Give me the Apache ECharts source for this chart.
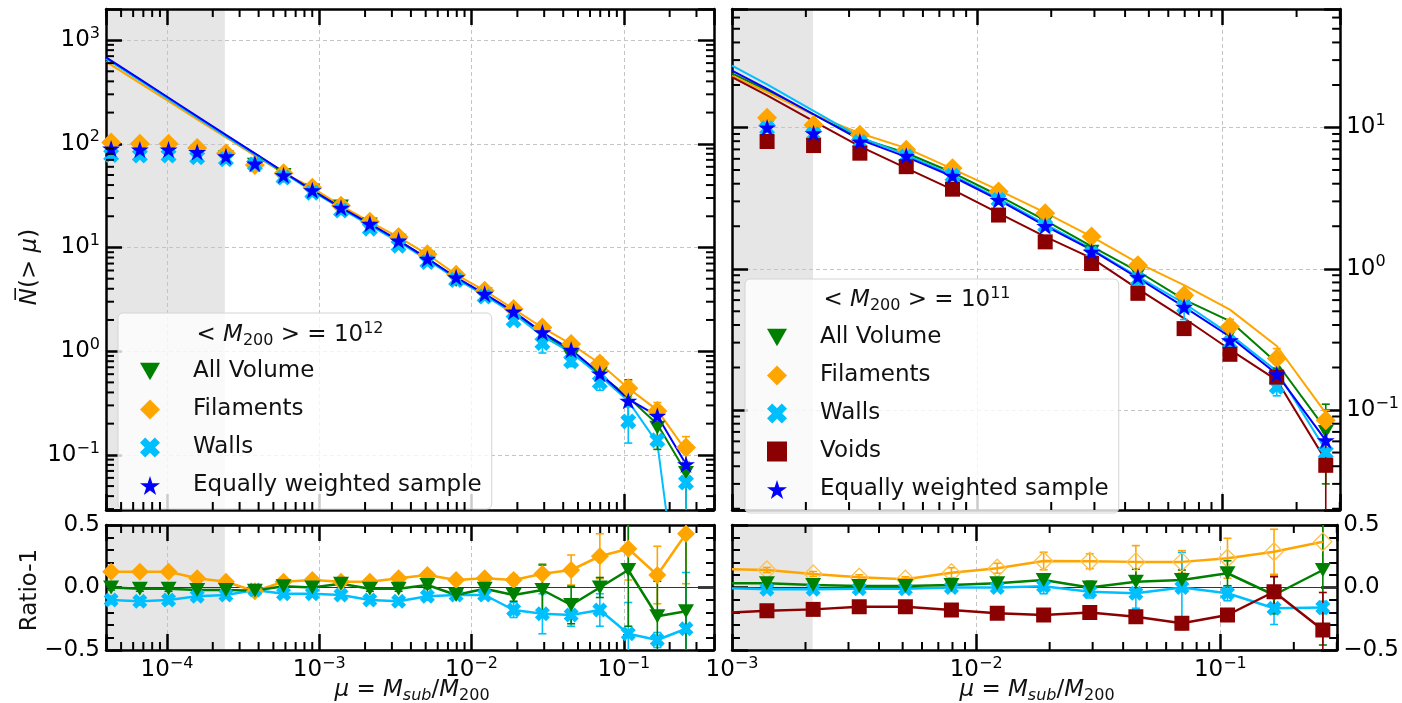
<!DOCTYPE html>
<html><head><meta charset="utf-8">
<script src="https://cdn.jsdelivr.net/npm/echarts@6/dist/echarts.min.js"></script>
<style>html,body{margin:0;padding:0;background:#fff}#c{width:1402px;height:703px}</style>
</head><body><div id="c"></div>
<script>
// ---------------- DATA ----------------
// mu bins (left panel, <M200>=1e12)
const xL = [4.30e-5, 6.64e-5, 1.025e-4, 1.58e-4, 2.44e-4, 3.78e-4, 5.83e-4, 9.01e-4, 1.39e-3, 2.15e-3, 3.32e-3, 5.13e-3, 7.92e-3, 1.22e-2, 1.89e-2, 2.92e-2, 4.51e-2, 6.96e-2, 0.107, 0.166, 0.256];
const xLineL = [3.98e-5, 4.30e-5, 6.64e-5, 1.025e-4, 1.58e-4, 2.44e-4, 3.78e-4, 5.83e-4, 9.01e-4, 1.39e-3, 2.15e-3, 3.32e-3, 5.13e-3, 7.92e-3, 1.22e-2, 1.89e-2, 2.92e-2, 4.51e-2, 6.96e-2, 0.107, 0.166, 0.256];
// mu bins (right panel, <M200>=1e11)
const xR = [1.39e-3, 2.15e-3, 3.32e-3, 5.13e-3, 7.92e-3, 1.22e-2, 1.89e-2, 2.92e-2, 4.51e-2, 6.96e-2, 0.107, 0.166, 0.263];
const xLineR = [1e-3, 1.39e-3, 2.15e-3, 3.32e-3, 5.13e-3, 7.92e-3, 1.22e-2, 1.89e-2, 2.92e-2, 4.51e-2, 6.96e-2, 0.107, 0.166, 0.263];

// Top-left markers N(>mu)
const allVolL = [89.8, 87, 87, 81.7, 74.2, 62.8, 50.2, 35.6, 24.9, 16.7, 11.6, 7.96, 4.85, 3.53, 2.27, 1.49, 0.89, 0.61, 0.38, 0.183, 0.067];
const filL    = [103, 100, 100, 91, 81, 62.5, 52, 37.7, 25.3, 17.7, 12.6, 8.6, 5.47, 3.83, 2.55, 1.69, 1.17, 0.76, 0.44, 0.265, 0.118];
const wallL   = [78, 77, 77, 74, 71, 63.1, 47.2, 33.8, 22.7, 15.2, 10.4, 7.25, 4.85, 3.36, 1.98, 1.2, 0.80, 0.50, 0.21, 0.138, 0.054];
const eqL     = [89.8, 88, 88, 83.4, 75.7, 64.4, 49.7, 35.6, 24.2, 16.9, 11.7, 7.8, 5.16, 3.57, 2.41, 1.52, 1.03, 0.61, 0.333, 0.238, 0.081];
// Top-left errors
const allVolErrL = [0,0,0,0,0,0,0,0,0,0,0,0,0,0,0.12,0.3,0.15,0.05,0.15,0.07,0.05];
const filErrL    = [0,0,0,0,0,0,0,0,0,0,0,0,0,0,0.1,0.12,0.12,0.11,0.08,0.055,0.032];
const wallErrL   = [0,0,0,0,0,0,0,0,0,0,0,0,0,0,0.14,0.24,0.09,0.08,0.08,0.014,0.06];
// Top-left lines
const allVolLineL = [670, 625, 414, 274, 181, 120, 80, 53, 35.6, 24.9, 16.7, 11.6, 7.9, 5.0, 3.5, 2.35, 1.49, 0.97, 0.6, 0.36, 0.197, 0.068];
const filLineL    = [617, 576, 385, 258, 172, 115, 77, 52, 37.7, 25.3, 17.7, 12.6, 8.6, 5.47, 3.83, 2.55, 1.69, 1.17, 0.76, 0.44, 0.27, 0.11];
const wallLineL   = [660, 615, 408, 270, 179, 118, 79, 52.5, 35, 23.7, 16.3, 11.3, 7.6, 5.0, 3.45, 2.3, 1.4, 0.97, 0.58, 0.33, 0.13, 0.001];
const eqLineL     = [681, 634, 420, 278, 184, 122, 81, 53.5, 35.6, 24.2, 16.9, 11.7, 7.8, 5.16, 3.57, 2.41, 1.52, 1.03, 0.61, 0.345, 0.238, 0.081];

// Top-right markers
const allVolR = [10.3, 9.3, 8.06, 6.38, 4.64, 3.17, 2.13, 1.32, 0.917, 0.569, 0.348, 0.168, 0.070];
const filR    = [11.7, 10.4, 8.9, 6.95, 5.15, 3.52, 2.47, 1.69, 1.06, 0.65, 0.388, 0.232, 0.0845];
const wallR   = [9.86, 8.97, 7.88, 6.24, 4.55, 3.07, 2.01, 1.28, 0.837, 0.537, 0.298, 0.146, 0.050];
const voidR   = [7.96, 7.45, 6.58, 5.28, 3.66, 2.40, 1.55, 1.09, 0.67, 0.377, 0.248, 0.171, 0.0406];
const eqR     = [10.0, 9.1, 7.96, 6.3, 4.55, 3.07, 2.01, 1.32, 0.877, 0.537, 0.312, 0.179, 0.061];
const allVolErrR = [0,0,0,0,0,0,0,0,0.05,0.03,0.03,0.03,0.04];
const filErrR    = [0,0,0,0,0,0,0,0,0.1,0.05,0.05,0.04,0.015];
const wallErrR   = [0,0,0,0,0,0,0,0,0.08,0.1,0.02,0.02,0.004];
const voidErrR   = [0,0,0,0,0,0,0,0,0.03,0.02,0.02,0.02,0.045];
// Top-right lines
const allVolLineR = [24.2, 18.3, 12.4, 8.4, 6.6, 4.8, 3.3, 2.2, 1.44, 0.96, 0.605, 0.426, 0.216, 0.073];
const filLineR    = [23.2, 17.8, 12.3, 9.1, 7.15, 5.1, 3.6, 2.5, 1.69, 1.1, 0.767, 0.514, 0.284, 0.095];
const wallLineR   = [27.4, 20.2, 13.1, 8.55, 6.4, 4.6, 3.15, 2.07, 1.38, 0.88, 0.57, 0.343, 0.189, 0.052];
const voidLineR   = [22.7, 16.9, 11.1, 7.35, 5.16, 3.63, 2.48, 1.69, 1.19, 0.72, 0.446, 0.268, 0.163, 0.044];
const eqLineR     = [25.3, 18.8, 12.4, 8.2, 6.2, 4.5, 3.07, 2.01, 1.36, 0.86, 0.537, 0.33, 0.18, 0.061];

// Ratio-1 (left)
const filRatL    = [0.126, 0.126, 0.126, 0.074, 0.046, -0.03, 0.046, 0.06, 0.046, 0.046, 0.074, 0.1, 0.06, 0.074, 0.06, 0.11, 0.14, 0.25, 0.31, 0.1, 0.43];
const allVolRatL = [0.0, -0.01, -0.01, -0.02, -0.02, -0.025, 0.01, 0.0, 0.03, -0.01, -0.01, 0.02, -0.06, -0.01, -0.06, -0.02, -0.14, 0.0, 0.14, -0.23, -0.19];
const wallRatL   = [-0.1, -0.11, -0.1, -0.07, -0.06, -0.02, -0.05, -0.05, -0.06, -0.1, -0.11, -0.07, -0.06, -0.06, -0.18, -0.21, -0.22, -0.18, -0.37, -0.42, -0.33];
const filRatErrL    = [0.02,0.02,0.02,0.02,0.02,0.02,0.02,0.02,0.02,0.02,0.03,0.03,0.03,0.03,0.04,0.08,0.12,0.18,0.25,0.23,0.4];
const allVolRatErrL = [0.02,0.02,0.02,0.02,0.02,0.02,0.02,0.02,0.02,0.02,0.02,0.03,0.03,0.03,0.05,0.2,0.15,0.08,0.45,0.28,0.6];
const wallRatErrL   = [0.03,0.03,0.03,0.02,0.02,0.02,0.02,0.02,0.02,0.02,0.02,0.03,0.03,0.03,0.06,0.16,0.09,0.13,0.25,0.06,0.45];

// Ratio-1 (right), first value at the left edge (line only)
const filRatR    = [0.146, 0.14, 0.108, 0.082, 0.066, 0.118, 0.154, 0.212, 0.21, 0.205, 0.205, 0.234, 0.286, 0.366];
const allVolRatR = [0.034, 0.034, 0.02, 0.012, 0.012, 0.02, 0.034, 0.06, 0.0, 0.046, 0.06, 0.114, -0.06, 0.14];
const wallRatR   = [-0.007, -0.014, -0.014, -0.01, -0.01, 0.0, 0.0, 0.01, -0.034, -0.046, 0.0, -0.046, -0.166, -0.16];
const voidRatR   = [-0.2, -0.186, -0.175, -0.154, -0.154, -0.18, -0.206, -0.22, -0.2, -0.234, -0.286, -0.22, -0.034, -0.34];
const filRatErrR    = [0.02,0.02,0.02,0.02,0.04,0.04,0.07,0.06,0.13,0.09,0.16,0.18,0.2];
const allVolRatErrR = [0.02,0.02,0.02,0.02,0.02,0.03,0.04,0.05,0.1,0.08,0.1,0.15,0.6];
const wallRatErrR   = [0.02,0.02,0.02,0.02,0.02,0.02,0.06,0.05,0.12,0.28,0.06,0.13,0.05];
const voidRatErrR   = [0.02,0.02,0.02,0.02,0.02,0.02,0.03,0.04,0.05,0.05,0.05,0.12,0.3];

// Axis ranges
const xMinL = 3.98e-5, xMaxL = 0.391, xMinR = 1e-3, xMaxR = 0.301;
const yMinL = 0.0294, yMaxL = 1995, yMinR = 0.0196, yMaxR = 69;
const shadeL = [3.98e-5, 2.4e-4], shadeR = [1e-3, 2.14e-3];

// ---------------- STYLE ----------------
const FONT = 'DejaVu Sans';
const C_GREEN = '#008000', C_ORANGE = '#ffa500', C_CYAN = '#00bfff', C_RED = '#8b0000', C_BLUE = '#0000ff';
const SYM_TRI = 'path://M0,0L10,0L5,8.66Z';
const SYM_STAR = 'path://M50,0L61.2,34.5L97.6,34.5L68.2,55.9L79.4,90.5L50,69.1L20.6,90.5L31.8,55.9L2.4,34.5L38.8,34.5Z';
const SYM_X = 'path://M0,2.6L2.6,0L5,2.4L7.4,0L10,2.6L7.6,5L10,7.4L7.4,10L5,7.6L2.6,10L0,7.4L2.4,5Z';

const powRich = {
  b: {fontSize: 23, fontFamily: FONT, color: '#000'},
  s: {fontSize: 16, fontFamily: FONT, color: '#000', padding: [0, 0, 13, 0]}
};
function powFmt(v) {
  const e = Math.log10(v), r = Math.round(e);
  if (Math.abs(e - r) > 1e-6) return '';
  return '{b|10}{s|' + (r < 0 ? '\u2212' + (-r) : r) + '}';
}
function ratioFmt(v) {
  if (Math.abs(v) < 1e-9) return '0.0';
  return v > 0 ? v.toFixed(1) : '\u2212' + (-v).toFixed(1);
}
const axLine = {show: true, onZero: false, lineStyle: {color: '#000', width: 2.5}};
const axTick = {show: true, inside: true, length: 16, lineStyle: {color: '#000', width: 2.5}};
const gridLine = {show: true, lineStyle: {color: '#c4c4c4', width: 1, type: [4, 3]}};

function logX(grid, min, max, pos, labels, split) {
  return {type: 'log', logBase: 10, gridIndex: grid, min, max, position: pos,
    axisLine: axLine, axisTick: axTick,
    axisLabel: labels ? {show: true, margin: 6, formatter: powFmt, rich: powRich} : {show: false},
    splitLine: split ? gridLine : {show: false}};
}
function logY(grid, min, max, pos, labels, split) {
  return {type: 'log', logBase: 10, gridIndex: grid, min, max, position: pos,
    axisLine: axLine, axisTick: axTick,
    axisLabel: labels ? {show: true, margin: 6, formatter: powFmt, rich: powRich} : {show: false},
    splitLine: split ? gridLine : {show: false}};
}
function ratY(grid, pos, labels) {
  return {type: 'value', gridIndex: grid, min: -0.5, max: 0.5, interval: 0.5, position: pos,
    axisLine: axLine, axisTick: axTick,
    minorTick: {show: true, splitNumber: 5, length: 8, lineStyle: {color: '#000', width: 2}},
    axisLabel: labels ? {show: true, margin: 6, formatter: ratioFmt, fontSize: 23, fontFamily: FONT, color: '#000'} : {show: false},
    splitLine: {show: false}};
}

function minorVals(min, max) {
  const lo = Math.log10(min), hi = Math.log10(max), out = [];
  for (let e = Math.floor(lo); e <= Math.ceil(hi); e++)
    for (let k = 2; k <= 9; k++) {
      const v = k * Math.pow(10, e), lv = Math.log10(v);
      if (lv > lo && lv < hi) out.push(v);
    }
  return out;
}
function minorTicks(xi, yi, vals, ref, dir, L) {
  return {type: 'custom', xAxisIndex: xi, yAxisIndex: yi, z: 10, silent: true,
    data: vals.map(v => dir === 'x' ? [v, ref] : [ref, v]),
    renderItem: (params, api) => {
      const cs = params.coordSys;
      const p = api.coord([api.value(0), api.value(1)]);
      const st = {stroke: '#000', lineWidth: 2};
      if (dir === 'x') {
        const x = p[0];
        return {type: 'group', children: [
          {type: 'line', shape: {x1: x, y1: cs.y + cs.height, x2: x, y2: cs.y + cs.height - L}, style: st},
          {type: 'line', shape: {x1: x, y1: cs.y, x2: x, y2: cs.y + L}, style: st}]};
      }
      const y = p[1];
      return {type: 'group', children: [
        {type: 'line', shape: {x1: cs.x, y1: y, x2: cs.x + L, y2: y}, style: st},
        {type: 'line', shape: {x1: cs.x + cs.width, y1: y, x2: cs.x + cs.width - L, y2: y}, style: st}]};
    }};
}
function shade(xi, yi, range, ref) {
  return {type: 'custom', xAxisIndex: xi, yAxisIndex: yi, z: -1, silent: true,
    data: [[range[0], range[1], ref]], encode: {x: [0, 1], y: 2},
    renderItem: (params, api) => {
      const cs = params.coordSys;
      const a = api.coord([api.value(0), api.value(2)]), b = api.coord([api.value(1), api.value(2)]);
      const l = Math.max(cs.x, a[0]), r = Math.min(cs.x + cs.width, b[0]);
      return {type: 'rect', shape: {x: l, y: cs.y, width: r - l, height: cs.height}, style: {fill: '#e6e6e6'}};
    }};
}
function zeroLine(xi, yi, ref) {
  return {type: 'custom', xAxisIndex: xi, yAxisIndex: yi, z: 1, silent: true,
    data: [[ref, 0]],
    renderItem: (params, api) => {
      const cs = params.coordSys, p = api.coord([api.value(0), api.value(1)]);
      return {type: 'line', shape: {x1: cs.x, y1: p[1], x2: cs.x + cs.width, y2: p[1]}, style: {stroke: '#333', lineWidth: 1.2}};
    }};
}
function errBars(xi, yi, xs, ys, es, color, isLog) {
  const data = [];
  xs.forEach((x, i) => { if (es[i]) data.push([x, ys[i], es[i]]); });
  return {type: 'custom', xAxisIndex: xi, yAxisIndex: yi, z: 3, silent: true, data,
    renderItem: (params, api) => {
      const cs = params.coordSys;
      const x = api.value(0), y = api.value(1), e = api.value(2);
      let lo = y - e; const hi = y + e;
      if (isLog && lo <= 0) lo = 1e-9;
      const ph = api.coord([x, hi]), pl = api.coord([x, lo]);
      const top = Math.max(cs.y, ph[1]), bot = Math.min(cs.y + cs.height, pl[1]);
      const px = ph[0], st = {stroke: color, lineWidth: 1.6};
      const ch = [{type: 'line', shape: {x1: px, y1: top, x2: px, y2: bot}, style: st}];
      if (ph[1] >= cs.y) ch.push({type: 'line', shape: {x1: px - 4, y1: ph[1], x2: px + 4, y2: ph[1]}, style: st});
      if (pl[1] <= cs.y + cs.height) ch.push({type: 'line', shape: {x1: px - 4, y1: pl[1], x2: px + 4, y2: pl[1]}, style: st});
      return {type: 'group', children: ch};
    }};
}
function scat(name, xi, yi, xs, ys, symbol, size, color) {
  return {type: 'scatter', name, xAxisIndex: xi, yAxisIndex: yi, symbol, symbolSize: size, symbolKeepAspect: true,
    itemStyle: {color, opacity: 1}, z: 4, silent: true, data: xs.map((x, i) => [x, ys[i]])};
}
function line(name, xi, yi, xs, ys, color, w) {
  return {type: 'line', name, xAxisIndex: xi, yAxisIndex: yi, showSymbol: false, symbol: 'none',
    lineStyle: {color, width: w || 2}, itemStyle: {color}, z: 2, silent: true,
    data: xs.map((x, i) => [x, ys[i]])};
}
function rline(name, xi, yi, xs, ys, color, symbol, size, noFirst, hollow) {
  return {type: 'line', name, xAxisIndex: xi, yAxisIndex: yi, showSymbol: true, showAllSymbol: true,
    symbol, symbolSize: size, symbolKeepAspect: true,
    lineStyle: {color, width: 2.5},
    itemStyle: hollow ? {color: 'rgba(255,255,255,0)', borderColor: '#ffc04d', borderWidth: 1.3} : {color},
    z: 4, silent: true,
    data: xs.map((x, i) => (noFirst && i === 0) ? {value: [x, ys[i]], symbol: 'none'} : [x, ys[i]])};
}

// ---------------- OPTION ----------------
const series = [];
// grid 0: top-left (xAxis 0, yAxis 0)
series.push(shade(0, 0, shadeL, 1));
series.push(minorTicks(0, 0, minorVals(xMinL, xMaxL), 1, 'x', 8));
series.push(minorTicks(0, 0, minorVals(yMinL, yMaxL), 1e-3, 'y', 8));
series.push(line('lAllL', 0, 0, xLineL, allVolLineL, C_GREEN));
series.push(line('lFilL', 0, 0, xLineL, filLineL, C_ORANGE));
series.push(line('lWallL', 0, 0, xLineL, wallLineL, C_CYAN));
series.push(line('lEqL', 0, 0, xLineL, eqLineL, C_BLUE));
series.push(errBars(0, 0, xL, allVolL, allVolErrL, C_GREEN, true));
series.push(scat('All Volume', 0, 0, xL, allVolL, SYM_TRI, 16, C_GREEN));
series.push(errBars(0, 0, xL, filL, filErrL, C_ORANGE, true));
series.push(scat('Filaments', 0, 0, xL, filL, 'diamond', 20, C_ORANGE));
series.push(errBars(0, 0, xL, wallL, wallErrL, C_CYAN, true));
series.push(scat('Walls', 0, 0, xL, wallL, SYM_X, 16, C_CYAN));
series.push(scat('Equally weighted sample', 0, 0, xL, eqL, SYM_STAR, 18, C_BLUE));

// grid 1: bottom-left (xAxis 2, yAxis 2)
series.push(shade(2, 2, shadeL, 0));
series.push(zeroLine(2, 2, 1e-3));
series.push(minorTicks(2, 2, minorVals(xMinL, xMaxL), 0, 'x', 8));
series.push(errBars(2, 2, xL, filRatL, filRatErrL, C_ORANGE, false));
series.push(rline('rFilL', 2, 2, xL, filRatL, C_ORANGE, 'diamond', 18));
series.push(errBars(2, 2, xL, wallRatL, wallRatErrL, C_CYAN, false));
series.push(rline('rWallL', 2, 2, xL, wallRatL, C_CYAN, SYM_X, 15));
series.push(errBars(2, 2, xL, allVolRatL, allVolRatErrL, C_GREEN, false));
series.push(rline('rAllL', 2, 2, xL, allVolRatL, C_GREEN, SYM_TRI, 16));

// grid 2: top-right (xAxis 4, yAxis 4)
series.push(shade(4, 4, shadeR, 1));
series.push(minorTicks(4, 4, minorVals(xMinR, xMaxR), 1, 'x', 8));
series.push(minorTicks(4, 4, minorVals(yMinR, yMaxR), 1e-2, 'y', 8));
series.push(line('lAllR', 4, 4, xLineR, allVolLineR, C_GREEN));
series.push(line('lFilR', 4, 4, xLineR, filLineR, C_ORANGE));
series.push(line('lWallR', 4, 4, xLineR, wallLineR, C_CYAN));
series.push(line('lVoidR', 4, 4, xLineR, voidLineR, C_RED));
series.push(line('lEqR', 4, 4, xLineR, eqLineR, C_BLUE));
series.push(errBars(4, 4, xR, allVolR, allVolErrR, C_GREEN, true));
series.push(scat('All Volume', 4, 4, xR, allVolR, SYM_TRI, 16, C_GREEN));
series.push(errBars(4, 4, xR, filR, filErrR, C_ORANGE, true));
series.push(scat('Filaments', 4, 4, xR, filR, 'diamond', 20, C_ORANGE));
series.push(errBars(4, 4, xR, wallR, wallErrR, C_CYAN, true));
series.push(scat('Walls', 4, 4, xR, wallR, SYM_X, 16, C_CYAN));
series.push(errBars(4, 4, xR, voidR, voidErrR, C_RED, true));
series.push(scat('Voids', 4, 4, xR, voidR, 'rect', 15, C_RED));
series.push(scat('Equally weighted sample', 4, 4, xR, eqR, SYM_STAR, 18, C_BLUE));

// grid 3: bottom-right (xAxis 6, yAxis 6)
series.push(shade(6, 6, shadeR, 0));
series.push(zeroLine(6, 6, 1e-2));
series.push(minorTicks(6, 6, minorVals(xMinR, xMaxR), 0, 'x', 8));
series.push(errBars(6, 6, xR, filRatR.slice(1), filRatErrR, C_ORANGE, false));
series.push(rline('rFilR', 6, 6, xLineR, filRatR, C_ORANGE, 'diamond', 18, true, true));
series.push(errBars(6, 6, xR, wallRatR.slice(1), wallRatErrR, C_CYAN, false));
series.push(rline('rWallR', 6, 6, xLineR, wallRatR, C_CYAN, SYM_X, 15, true));
series.push(errBars(6, 6, xR, allVolRatR.slice(1), allVolRatErrR, C_GREEN, false));
series.push(rline('rAllR', 6, 6, xLineR, allVolRatR, C_GREEN, SYM_TRI, 16, true));
series.push(errBars(6, 6, xR, voidRatR.slice(1), voidRatErrR, C_RED, false));
series.push(rline('rVoidR', 6, 6, xLineR, voidRatR, C_RED, 'rect', 15, true));

const legendBase = {orient: 'vertical', itemWidth: 20, itemHeight: 20, itemGap: 15,
  backgroundColor: 'rgba(255,255,255,0.8)', borderColor: '#d4d4d4', borderWidth: 1, borderRadius: 5,
  selectedMode: false, textStyle: {fontSize: 23, fontFamily: FONT, color: '#111', padding: [0, 0, 0, 28]}};

const R = {
  t: {fontSize: 23, fontFamily: FONT, fill: '#111', color: '#111'},
  i: {fontSize: 23, fontFamily: FONT, fontStyle: 'italic', fill: '#111', color: '#111'},
  sb: {fontSize: 16, fontFamily: FONT, fill: '#111', color: '#111', padding: [12, 0, 0, 0]},
  sbi: {fontSize: 16, fontFamily: FONT, fontStyle: 'italic', fill: '#111', color: '#111', padding: [12, 0, 0, 0]},
  sp: {fontSize: 16, fontFamily: FONT, fill: '#111', color: '#111', padding: [0, 0, 13, 0]}
};
function txt(x, y, text, rot) {
  return {type: 'text', x, y, rotation: rot || 0, z: 100, silent: true,
    style: {text, rich: R, align: 'center', verticalAlign: 'middle', textAlign: 'center', textVerticalAlign: 'middle', fill: '#111'}};
}

const option = {
  animation: false,
  backgroundColor: '#fff',
  grid: [
    {left: 106, top: 9, width: 608, height: 501},
    {left: 106, top: 525, width: 608, height: 125},
    {left: 732, top: 9, width: 610, height: 501},
    {left: 732, top: 525, width: 610, height: 125}
  ],
  xAxis: [
    logX(0, xMinL, xMaxL, 'bottom', false, true),
    logX(0, xMinL, xMaxL, 'top', false, false),
    logX(1, xMinL, xMaxL, 'bottom', true, true),
    logX(1, xMinL, xMaxL, 'top', false, false),
    logX(2, xMinR, xMaxR, 'bottom', false, true),
    logX(2, xMinR, xMaxR, 'top', false, false),
    logX(3, xMinR, xMaxR, 'bottom', true, true),
    logX(3, xMinR, xMaxR, 'top', false, false)
  ],
  yAxis: [
    logY(0, yMinL, yMaxL, 'left', true, true),
    logY(0, yMinL, yMaxL, 'right', false, false),
    ratY(1, 'left', true),
    ratY(1, 'right', false),
    logY(2, yMinR, yMaxR, 'left', false, true),
    logY(2, yMinR, yMaxR, 'right', true, false),
    ratY(3, 'left', false),
    ratY(3, 'right', true)
  ],
  legend: [
    Object.assign({}, legendBase, {left: 118, top: 313, padding: [47, 10, 12, 22],
      data: ['All Volume', 'Filaments', 'Walls', 'Equally weighted sample']}),
    Object.assign({}, legendBase, {left: 745, top: 279, padding: [47, 10, 12, 22],
      data: ['All Volume', 'Filaments', 'Walls', 'Voids', 'Equally weighted sample']})
  ],
  graphic: [
    txt(290, 335, '{t|< }{i|M}{sb|200}{t| > = 10}{sp|12}'),
    txt(917, 300, '{t|< }{i|M}{sb|200}{t| > = 10}{sp|11}'),
    txt(30, 267, '{i|N\u0305}{t|(> }{i|\u03bc}{t|)}', Math.PI / 2),
    txt(30, 590, '{t|Ratio-1}', Math.PI / 2),
    txt(412, 690, '{i|\u03bc}{t| = }{i|M}{sbi|sub}{t|/}{i|M}{sb|200}'),
    txt(1037, 690, '{i|\u03bc}{t| = }{i|M}{sbi|sub}{t|/}{i|M}{sb|200}')
  ],
  series
};

const chart = echarts.init(document.getElementById('c'), null, {renderer: 'canvas', width: 1402, height: 703});
chart.setOption(option);
</script></body></html>
